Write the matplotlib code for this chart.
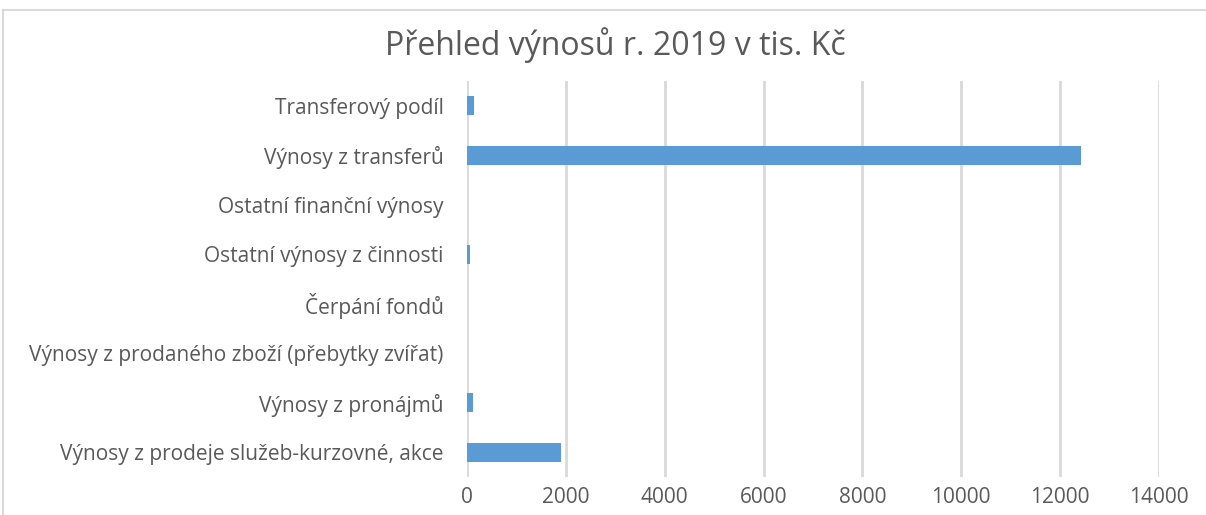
import matplotlib.pyplot as plt
from matplotlib.lines import Line2D

# Data (tis. Kč), bottom to top
categories = [
    'Výnosy z prodeje služeb-kurzovné, akce',
    'Výnosy z pronájmů',
    'Výnosy z prodaného zboží (přebytky zvířat)',
    'Čerpání fondů',
    'Ostatní výnosy z činnosti',
    'Ostatní finanční výnosy',
    'Výnosy z transferů',
    'Transferový podíl',
]
values = [1910, 125, 0, 0, 65, 0, 12430, 150]
xticks = [0, 2000, 4000, 6000, 8000, 10000, 12000, 14000]

plt.rcParams['font.family'] = ['Open Sans', 'DejaVu Sans']
text_color = '#595959'
grid_color = '#D9D9D9'

fig = plt.figure(figsize=(12.06, 5.15), dpi=100)
ax = fig.add_axes([467 / 1206, 1 - 477 / 515, (1159 - 467) / 1206, (477 - 81) / 515])

ax.barh(range(len(categories)), values, height=0.38, color='#5B9BD5')
ax.set_ylim(-0.5, len(categories) - 0.5)
ax.set_xlim(0, 14000)
ax.set_xticks(xticks)
ax.set_xticklabels([str(t) for t in xticks])
ax.set_yticks(range(len(categories)))
ax.set_yticklabels(categories)

ax.grid(axis='x', color=grid_color, linewidth=2)
ax.set_axisbelow(True)
for s in ax.spines.values():
    s.set_visible(False)
ax.tick_params(axis='both', length=0, colors=text_color, labelsize=15)
ax.tick_params(axis='y', pad=17)
ax.tick_params(axis='x', pad=7)

fig.text(615 / 1206, 1 - 45 / 515, 'Přehled výnosů r. 2019 v tis. Kč', ha='center', va='center',
         fontsize=23, color=text_color)

# chart frame (left and top edges visible)
fig.add_artist(Line2D([3 / 1206, 3 / 1206], [0, 1 - 10 / 515], transform=fig.transFigure,
                      color=grid_color, linewidth=1.5))
fig.add_artist(Line2D([3 / 1206, 1], [1 - 10 / 515, 1 - 10 / 515], transform=fig.transFigure,
                      color=grid_color, linewidth=1.5))

fig.savefig('out.png', dpi=100)
